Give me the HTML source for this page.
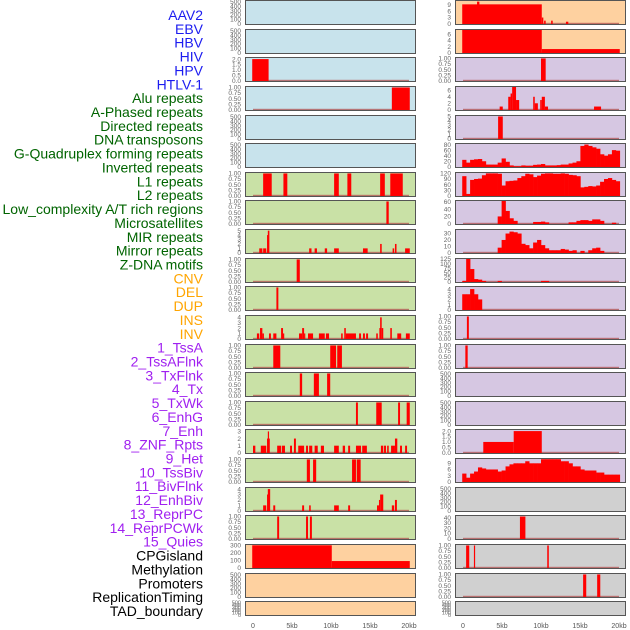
<!DOCTYPE html>
<html><head><meta charset="utf-8">
<style>
body{margin:0;background:#fff;width:630px;height:630px;overflow:hidden;font-family:"Liberation Sans",sans-serif;}
svg{display:block}
</style></head>
<body>
<svg id="chart" width="630" height="630" viewBox="0 0 630 630" xmlns="http://www.w3.org/2000/svg"></svg>
<script>
// ---------- data ----------
const trackNames = ["AAV2","EBV","HBV","HIV","HPV","HTLV-1","Alu repeats","A-Phased repeats","Directed repeats","DNA transposons","G-Quadruplex forming repeats","Inverted repeats","L1 repeats","L2 repeats","Low_complexity A/T rich regions","Microsatellites","MIR repeats","Mirror repeats","Z-DNA motifs","CNV","DEL","DUP","INS","INV","1_TssA","2_TssAFlnk","3_TxFlnk","4_Tx","5_TxWk","6_EnhG","7_Enh","8_ZNF_Rpts","9_Het","10_TssBiv","11_BivFlnk","12_EnhBiv","13_ReprPC","14_ReprPCWk","15_Quies","CPGisland","Methylation","Promoters","ReplicationTiming","TAD_boundary"];
const labelColors = ["#1c1cf0","#1c1cf0","#1c1cf0","#1c1cf0","#1c1cf0","#1c1cf0","#006400","#006400","#006400","#006400","#006400","#006400","#006400","#006400","#006400","#006400","#006400","#006400","#006400","#ffa500","#ffa500","#ffa500","#ffa500","#ffa500","#a020f0","#a020f0","#a020f0","#a020f0","#a020f0","#a020f0","#a020f0","#a020f0","#a020f0","#a020f0","#a020f0","#a020f0","#a020f0","#a020f0","#a020f0","#000","#000","#000","#000","#000"];
const bgColors = ["#c8e3ec","#c8e3ec","#c8e3ec","#c8e3ec","#c8e3ec","#c8e3ec","#c9e1a6","#c9e1a6","#c9e1a6","#c9e1a6","#c9e1a6","#c9e1a6","#c9e1a6","#c9e1a6","#c9e1a6","#c9e1a6","#c9e1a6","#c9e1a6","#c9e1a6","#fed1a0","#fed1a0","#fed1a0","#fed1a0","#fed1a0","#d6c7e2","#d6c7e2","#d6c7e2","#d6c7e2","#d6c7e2","#d6c7e2","#d6c7e2","#d6c7e2","#d6c7e2","#d6c7e2","#d6c7e2","#d6c7e2","#d6c7e2","#d6c7e2","#d6c7e2","#d0d0d0","#d0d0d0","#d0d0d0","#d0d0d0","#d0d0d0"];
const yMax = [520,520,2.1,1.02,520,520,1.02,1.02,5.15,1.02,1.02,4.25,1.02,1.02,1.02,3.2,1.02,4.2,1.02,304,520,520,10.9,7.3,1.02,7,5.1,82,122,62,35.5,125,4.4,1.02,1.02,520,520,2.1,11.1,520,43,1.02,1.02,520];
const T1 = [0,0.25,0.5,0.75,1], TE = [0,100,200,300,400,500];
const tickVals = [TE,TE,[0,0.5,1,1.5,2],T1,TE,TE,T1,T1,[0,1,2,3,4,5],T1,T1,[0,1,2,3,4],T1,T1,T1,[0,1,2,3],T1,[0,1,2,3,4],T1,[0,100,200,300],TE,TE,[0,3,6,9],[0,2,4,6],T1,[0,2,4,6],[0,1,2,3,4,5],[0,20,40,60,80],[0,30,60,90,120],[0,20,40,60],[0,10,20,30],[0,25,50,75,100,125],[0,1,2,3,4],T1,T1,TE,TE,[0,0.5,1,1.5,2],[0,3,6,9],TE,[0,10,20,30,40],T1,T1,TE];
const tickFmt = [0,0,1,2,0,0,2,2,0,2,2,0,2,2,2,0,2,0,2,0,0,0,0,0,2,0,0,0,0,0,0,0,0,2,2,0,0,1,0,0,0,2,2,0];
const hbvSegs = [[-0.1,2.0,2]];
const hivSegs = [[17.8,20.1,1]];
const aluSegs = [[1.3,2.4,1],[3.9,4.4,1],[10.4,11.0,1],[12.1,12.6,1],[16.3,16.9,1],[17.6,19.2,1]];
const aphasedSegs = [[17.1,17.4,1]];
const directedSegs = [[0.8,1.2,1],[1.3,1.7,1],[1.8,1.9,4],[1.9,2.1,5],[7.2,7.5,1],[7.9,8.2,1],[9.2,9.5,1],[10.4,11.0,1],[14.1,14.7,1],[16.3,16.5,2],[17.9,18.1,1],[18.2,18.4,2],[19.5,20.1,1]];
const dnaTransSegs = [[5.6,6.0,1]];
const gquadSegs = [[3.0,3.25,1]];
const invertedSegs = [[0.5,0.8,1],[0.9,1.2,2],[1.2,1.4,1],[2.05,2.3,1],[2.6,3.0,1],[3.6,3.85,2],[3.85,4.0,1],[5.9,6.3,1],[6.3,6.55,2],[6.55,6.7,1],[7.05,7.7,1],[8.45,9.2,1],[9.35,9.75,1],[11.3,11.5,1],[11.7,11.9,2],[11.9,13.2,1],[13.6,13.85,1],[14.1,14.35,1],[14.5,14.75,1],[15.8,16.0,1],[16.2,16.3,2],[16.3,16.5,4],[16.5,16.7,2],[17.6,17.8,2],[18.5,19.0,1],[19.6,20.1,1]];
const l1Segs = [[2.6,3.5,1],[9.9,10.65,1],[10.8,11.4,1]];
const l2Segs = [[6.0,6.3,1],[7.8,8.45,1],[9.5,9.9,1]];
const lowCompSegs = [[13.2,13.45,1],[15.8,16.5,1],[18.6,18.85,1],[19.7,20.1,1]];
const microSegs = [[0,0.3,1],[1.0,1.7,1],[1.8,1.9,2],[1.9,2.0,3],[2.0,2.05,2],[3.1,3.6,1],[3.7,4.1,1],[4.75,5.0,1],[5.25,5.5,2],[5.8,6.55,1],[6.8,7.05,1],[7.2,7.6,1],[7.9,8.3,1],[8.7,9.1,1],[10.4,11.0,1],[11.5,11.8,1],[12.2,12.45,1],[13.2,13.85,1],[14.0,14.6,1],[16.4,16.7,1],[16.8,17.05,1],[17.2,17.4,1],[17.7,18.2,1],[18.2,18.5,2],[18.85,19.1,1],[19.5,19.75,1]];
const mirSegs = [[6.9,7.3,1],[7.7,8.1,1],[12.7,13.2,1],[13.3,13.8,1]];
const mirrorSegs = [[1.3,1.7,1],[1.8,1.9,3],[1.9,2.2,4],[2.6,2.85,1],[6.3,6.55,1],[7.2,7.4,1],[10.4,11.0,1],[12.2,12.45,1],[15.9,16.15,1],[16.15,16.3,2],[16.3,16.7,3],[17.8,18.1,1],[18.2,18.45,2]];
const zdnaSegs = [[3.1,3.35,1],[6.8,7.05,1],[7.3,7.55,1]];
const cnvSegs = [[-0.1,10.1,300],[10.1,20.1,90]];
const insSegs = [[-0.1,10.1,9.3],[1.8,2.1,10.6],[10.1,10.3,3],[10.4,10.6,1.5],[11.3,11.5,1.5],[13.2,13.5,1]];
const invSegs = [[-0.1,10.1,7.3],[10.1,20.1,1.2]];
const tssASegs = [[10.0,10.6,1]];
const tssAFlnkSegs = [[4.7,5.1,1],[5.8,6.1,4],[6.1,6.3,5],[6.3,6.8,7],[6.8,7.2,3],[9.0,9.2,4],[9.2,9.6,2],[9.9,10.1,3],[10.1,10.5,4],[10.5,10.9,1],[16.8,17.7,1]];
const txFlnkSegs = [[4.5,5.1,5]];
const tssBivSegs = [[0.5,0.75,1]];
const bivFlnkSegs = [[0.3,0.6,1]];
const reprPCWkSegs = [[2.6,6.5,1],[6.5,10.1,2]];
const methylSegs = [[7.3,8.0,42]];
const promoterSegs = [[0.4,0.8,1],[1.4,1.55,1],[10.8,11.0,1]];
const replSegs = [[15.4,15.8,1],[17.2,17.6,1]];
const txBins = [25,15,25,27,28,20,8,8,8,15,30,18,5,2,2,5,4,4,7,8,10,5,5,5,6,8,8,12,15,20,75,80,75,70,65,45,40,45,60,58];
const txWkBins = [105,10,85,90,92,110,120,120,120,118,55,78,80,82,95,105,118,115,100,108,118,120,120,118,118,120,118,112,110,105,45,48,52,50,55,75,90,95,85,78];
const enhGBins = [0,0,0,0,0,0,0,0,0,20,62,35,15,8,0,0,0,0,5,5,6,4,0,0,0,0,0,4,4,8,10,10,8,12,12,8,0,0,3,0];
const enhBins = [0,0,0,0,0,0,0,0,0,8,20,30,33,32,30,14,12,7,16,20,12,7,4,4,4,6,5,3,4,0,3,0,4,7,8,3,0,0,0,0];
const znfBins = [5,125,70,15,12,5,0,0,0,5,0,0,0,0,0,0,0,0,0,0,5,5,0,0,0,0,0,0,0,0,0,0,0,0,0,0,0,0,0,0];
const hetBins = [3,3,4,3,2,0,0,0,0,0,0,0,0,0,0,0,0,0,0,0,0,0,0,0,0,0,0,0,0,0,0,0,0,0,0,0,0,0,0,0];
const quiesBins = [4,2,4,5,7,6.5,6,6,6,5,5.5,7.5,8.5,9,9,9,10,9,9,9,11,11,11,11,11,10,10,9,7.5,7.5,6,5.5,5.5,5.5,4.5,4.5,3.5,3.5,3.5,3.5];
const xTickVals = [0,5,10,15,20];
const xTickLabels = ["0","5kb","10kb","15kb","20kb"];

const trackSegs = {2:hbvSegs,3:hivSegs,6:aluSegs,7:aphasedSegs,8:directedSegs,9:dnaTransSegs,10:gquadSegs,11:invertedSegs,12:l1Segs,13:l2Segs,14:lowCompSegs,15:microSegs,16:mirSegs,17:mirrorSegs,18:zdnaSegs,19:cnvSegs,22:insSegs,23:invSegs,24:tssASegs,25:tssAFlnkSegs,26:txFlnkSegs,33:tssBivSegs,34:bivFlnkSegs,37:reprPCWkSegs,40:methylSegs,41:promoterSegs,42:replSegs};
const trackBins = {27:txBins,28:txWkBins,29:enhGBins,30:enhBins,31:znfBins,32:hetBins,38:quiesBins};

// ---------- drawing ----------
const svg = document.getElementById('chart');
const NS = 'http://www.w3.org/2000/svg';
function mk(tag, attrs, parent){const e=document.createElementNS(NS,tag);for(const k in attrs)e.setAttribute(k,attrs[k]);(parent||svg).appendChild(e);return e;}
const colX = [{left:245,right:416,x0:253},{left:455,right:626,x0:463}];
const pxPerKb = 7.8;
function xScale(col,kb){return colX[col].x0 + kb*pxPerKb;}
function panelTop(r){return Math.round(r*28.63);}
function panelH(r){return r===21?15:25;}

trackNames.forEach((n,i)=>{
  const t = mk('text',{x:203,y:15+i*13.86+5,'text-anchor':'end','font-size':14,fill:labelColors[i],'font-family':'Liberation Sans, sans-serif'});
  t.textContent = n;
  
  
});

for(let i=0;i<44;i++){
  const col = i<22?0:1, r = i%22;
  const top = panelTop(r), h = panelH(r), bottom = top+h;
  const C = colX[col];
  const g = mk('g',{});
  
  
  mk('rect',{x:C.left,y:top,width:C.right-C.left,height:h,fill:bgColors[i]},g);
  const y0 = bottom-1.2, ytop = top+1;
  const yS = v => y0 - (v/yMax[i])*(y0-ytop);
  const fs = h<20?5.5:6.5;
  tickVals[i].forEach(v=>{
    const yy = yS(v);
    const tl = mk('text',{x:C.left-4,y:yy+2.2,'text-anchor':'end','font-size':fs,fill:'#666'},g);
    tl.textContent = v.toFixed(tickFmt[i]);
    
    
  });
  const hasData = trackSegs[i] || trackBins[i];
  if(hasData){
    mk('rect',{x:xScale(col,0),y:y0-1,width:20*pxPerKb,height:1.6,fill:'#b05050',opacity:0.75},g);
  }
  if(trackSegs[i]){
    trackSegs[i].forEach(s=>{
      const x1=xScale(col,s[0]), x2=xScale(col,s[1]), yy=Math.max(yS(s[2]),top);
      const b = mk('rect',{x:x1,y:yy,width:Math.max(x2-x1,1.2),height:y0-yy+0.5,fill:'#ff0000'},g);
      
      
    });
  }
  if(trackBins[i]){
    trackBins[i].forEach((v,k)=>{
      if(v<=0) return;
      const x1=xScale(col,-0.1+k*0.505), x2=xScale(col,-0.1+(k+1)*0.505), yy=Math.max(yS(v),top);
      const b = mk('rect',{x:x1,y:yy,width:x2-x1+0.3,height:y0-yy+0.5,fill:'#ff0000'},g);
      
      
    });
  }
  mk('rect',{x:C.left+0.5,y:top+0.5,width:C.right-C.left-1,height:h-1,fill:'none',stroke:'#555','stroke-width':1},g);
}
[0,1].forEach(col=>{
  xTickVals.forEach((v,k)=>{
    const t = mk('text',{x:xScale(col,v),y:628,'text-anchor':'middle','font-size':7,fill:'#555'});
    t.textContent = xTickLabels[k];
    
    
  });
});
</script>
</body></html>
